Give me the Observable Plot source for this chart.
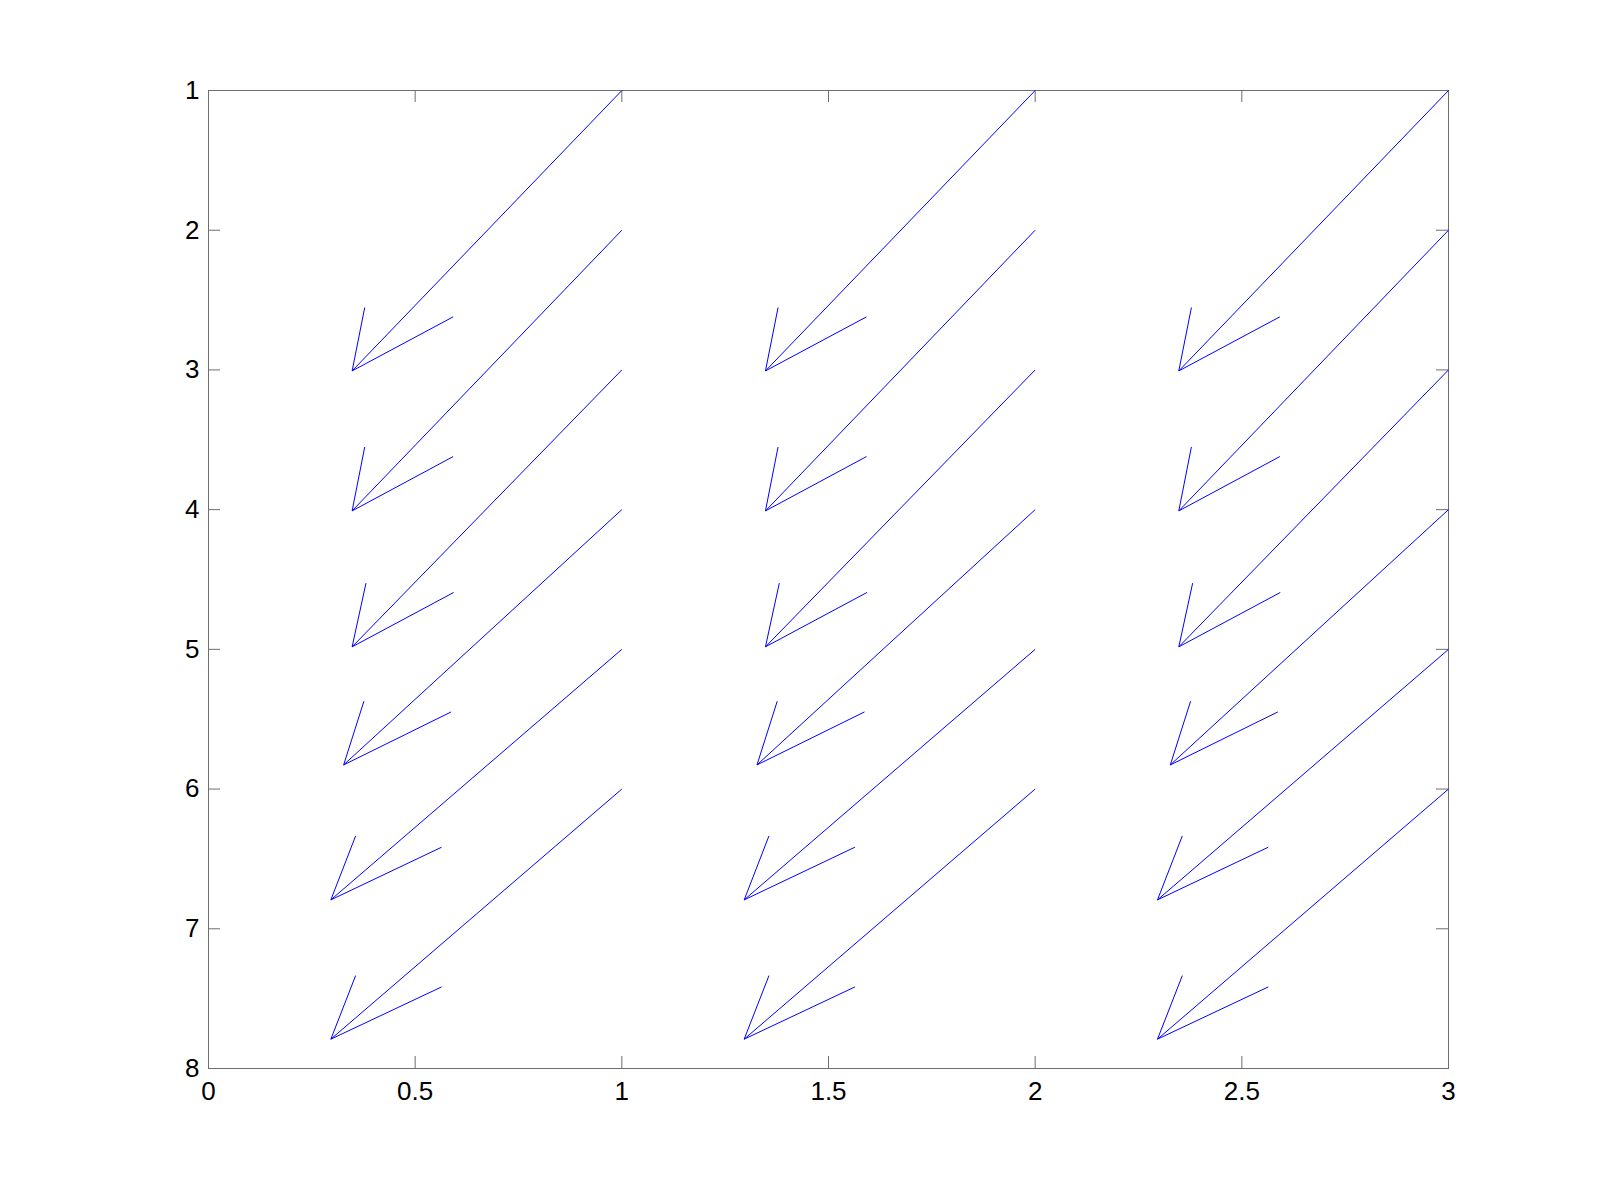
<!DOCTYPE html>
<html>
<head>
<meta charset="utf-8">
<script src="https://cdn.jsdelivr.net/npm/d3@7"></script>
<script src="https://cdn.jsdelivr.net/npm/@observablehq/plot@0.6"></script>
<style>
  html, body { margin: 0; padding: 0; background: #fff; }
  #chart svg { display: block; }
</style>
</head>
<body>
<div id="chart"></div>
<script>
// Quiver grid: arrow origins
const colX = [1, 2, 3];
const rowY = [1, 2, 3, 4, 5, 6];
// Per-row arrow tip (x offset from column origin, absolute y)
const tipDX = [-0.6525, -0.6525, -0.6525, -0.673, -0.704, -0.704];
const tipY  = [3.007, 4.009, 4.982, 5.827, 6.793, 7.790];
// Per-row arrowhead barb ends (x offset from column origin, absolute y)
const barb1DX = [-0.622, -0.622, -0.619, -0.624, -0.644, -0.644];
const barb1Y  = [2.553, 3.551, 4.526, 5.371, 6.335, 7.335];
const barb2DX = [-0.408, -0.408, -0.407, -0.413, -0.436, -0.436];
const barb2Y  = [2.620, 3.620, 4.593, 5.448, 6.416, 7.416];
// Tick values
const xTicks = [0, 0.5, 1, 1.5, 2, 2.5, 3];
const yTicks = [1, 2, 3, 4, 5, 6, 7, 8];

const arrows = [];
for (const cx of colX) {
  rowY.forEach((ry, i) => {
    arrows.push({
      x0: cx, y0: ry,
      tx: cx + tipDX[i], ty: tipY[i],
      b1x: cx + barb1DX[i], b1y: barb1Y[i],
      b2x: cx + barb2DX[i], b2y: barb2Y[i]
    });
  });
}

const W = 1600, H = 1199;
const mL = 208, mR = 152, mT = 90, mB = 131;
const frameW = W - mL - mR, frameH = H - mT - mB;
const tickLen = 12;
const axisColor = "#6e6e6e";
const blue = "#0000ff";

const chart = Plot.plot({
  width: W,
  height: H,
  marginLeft: mL,
  marginRight: mR,
  marginTop: mT,
  marginBottom: mB,
  style: { fontFamily: "'Liberation Sans', Arial, Helvetica, sans-serif", background: "#fff", color: "#000" },
  x: { domain: [0, 3] },
  y: { domain: [1, 8], reverse: true },
  marks: [
    Plot.frame({ stroke: axisColor, strokeWidth: 1 }),
    // inward ticks on all four sides
    Plot.tickX(xTicks, { x: d => d, insetTop: frameH - tickLen, stroke: axisColor }),
    Plot.tickX(xTicks, { x: d => d, insetBottom: frameH - tickLen, stroke: axisColor }),
    Plot.tickY(yTicks, { y: d => d, insetRight: frameW - tickLen, stroke: axisColor }),
    Plot.tickY(yTicks, { y: d => d, insetLeft: frameW - tickLen, stroke: axisColor }),
    Plot.axisX({ ticks: xTicks, tickSize: 0, tickPadding: 13, fontSize: 26, tickFormat: d => String(d), label: null, fill: "#000" }),
    Plot.axisY({ ticks: yTicks, tickSize: 0, tickPadding: 9, fontSize: 26, tickFormat: d => String(d), label: null, fill: "#000" }),
    // arrow shafts
    Plot.link(arrows, { x1: "x0", y1: "y0", x2: "tx", y2: "ty", stroke: blue, strokeWidth: 1 }),
    // arrowhead barbs
    Plot.link(arrows, { x1: "tx", y1: "ty", x2: "b1x", y2: "b1y", stroke: blue, strokeWidth: 1 }),
    Plot.link(arrows, { x1: "tx", y1: "ty", x2: "b2x", y2: "b2y", stroke: blue, strokeWidth: 1 })
  ]
});
document.getElementById("chart").appendChild(chart);
</script>
</body>
</html>
